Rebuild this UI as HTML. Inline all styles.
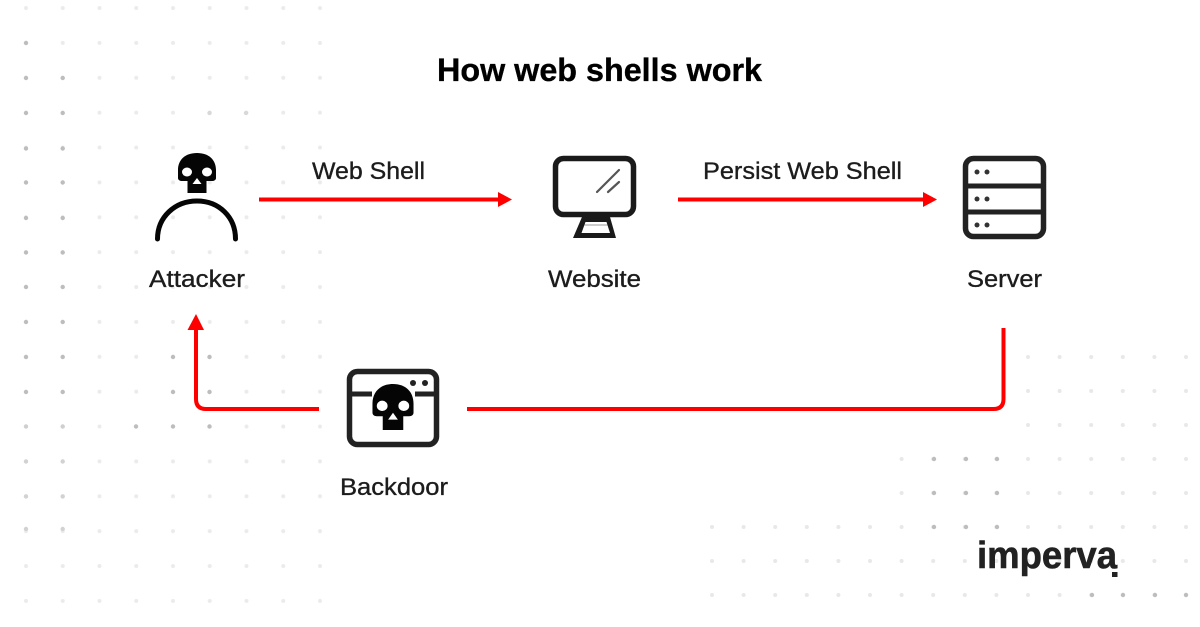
<!DOCTYPE html>
<html><head><meta charset="utf-8"><style>
html,body{margin:0;padding:0;background:#fff;width:1200px;height:627px;overflow:hidden}
svg{display:block}
text{font-family:"Liberation Sans",sans-serif;fill:#1c1c1c;font-size:24px;stroke:#1c1c1c;stroke-width:.35px}
</style></head><body>
<svg width="1200" height="627" viewBox="0 0 1200 627" xmlns="http://www.w3.org/2000/svg">
<defs>
<pattern id="pL" patternUnits="userSpaceOnUse" x="8" y="-9.4" width="36.75" height="34.875"><circle cx="18" cy="17.44" r="2" fill="#ebebeb"/></pattern>
<pattern id="pR" patternUnits="userSpaceOnUse" x="696.2" y="340" width="31.6" height="34"><circle cx="15.8" cy="17" r="2" fill="#e8e8e8"/></pattern>
<g id="skull">
<path d="M0-20C12-20 19-13 19-3V5C19 7 17 8 15 8H9.500V20H-9.500V8H-15C-17 8-19 7-19 5V-3C-19-13-12-20 0-20Z" fill="#050505"/>
<ellipse cx="-10" cy="-1" rx="5" ry="4.500" fill="#fff"/>
<ellipse cx="10" cy="-1" rx="5" ry="4.500" fill="#fff"/>
<path d="M0 5L4.500 11H-4.500Z" fill="#fff"/>
</g>
</defs>
<rect width="1200" height="627" fill="#fff"/>
<rect x="8" y="0" width="330" height="627" fill="url(#pL)"/>
<rect x="696" y="510" width="504" height="100" fill="url(#pR)"/>
<rect x="886" y="442" width="314" height="68" fill="url(#pR)"/>
<rect x="1012" y="340" width="188" height="102" fill="url(#pR)"/>
<g fill="#bdbdbd">
<circle cx="26" cy="43" r="2.200"/>
<circle cx="26" cy="78" r="2.200"/><circle cx="62.700" cy="78" r="2.200"/>
<circle cx="26" cy="113" r="2.200"/><circle cx="62.700" cy="113" r="2.200"/>
<circle cx="26" cy="148.500" r="2.200"/><circle cx="62.700" cy="148.500" r="2.200"/>
<circle cx="26" cy="182.500" r="2.200"/><circle cx="62.700" cy="182.500" r="2.200"/>
<circle cx="26" cy="218" r="2.200"/><circle cx="62.700" cy="218" r="2.200"/>
<circle cx="26" cy="252.500" r="2.200"/><circle cx="62.700" cy="252.500" r="2.200"/>
<circle cx="26" cy="287" r="2.200"/><circle cx="26" cy="322" r="2.200"/><circle cx="26" cy="357" r="2.200"/><circle cx="26" cy="392" r="2.200"/>
<circle cx="62.700" cy="287" r="2.200"/><circle cx="62.700" cy="322" r="2.200"/><circle cx="62.700" cy="357" r="2.200"/><circle cx="62.700" cy="392" r="2.200"/>
<circle cx="173" cy="357" r="2.200"/><circle cx="209.500" cy="357" r="2.200"/><circle cx="173" cy="392" r="2.200"/><circle cx="209.500" cy="392" r="2.200"/>
<circle cx="136" cy="426.500" r="2.200"/><circle cx="173" cy="426.500" r="2.200"/><circle cx="209.500" cy="426.500" r="2.200"/>
<circle cx="26" cy="426.500" r="2.200" fill="#cfcfcf"/><circle cx="62.700" cy="426.500" r="2.200" fill="#cfcfcf"/>
<circle cx="26" cy="461.500" r="2.200" fill="#d2d2d2"/><circle cx="62.700" cy="461.500" r="2.200" fill="#d2d2d2"/>
<circle cx="26" cy="496.400" r="2.200" fill="#d2d2d2"/><circle cx="62.700" cy="496.400" r="2.200" fill="#d2d2d2"/>
<circle cx="26" cy="529" r="2.200" fill="#d2d2d2"/><circle cx="62.700" cy="529" r="2.200" fill="#d2d2d2"/>
<circle cx="209.500" cy="113" r="2.200" fill="#d8d8d8"/><circle cx="246" cy="113" r="2.200" fill="#d8d8d8"/>
<circle cx="934" cy="459" r="2.200"/><circle cx="966" cy="459" r="2.200"/><circle cx="997" cy="459" r="2.200"/>
<circle cx="934" cy="493" r="2.200"/><circle cx="966" cy="493" r="2.200"/><circle cx="997" cy="493" r="2.200"/>
<circle cx="934" cy="527" r="2.200"/><circle cx="966" cy="527" r="2.200"/><circle cx="997" cy="527" r="2.200"/>
<circle cx="1092" cy="595" r="2.200"/><circle cx="1123" cy="595" r="2.200"/><circle cx="1155" cy="595" r="2.200"/><circle cx="1186" cy="595" r="2.200"/>
</g>

<text x="437" y="81" textLength="325" lengthAdjust="spacingAndGlyphs" style="font-size:32px;font-weight:700;fill:#000;stroke:#000">How web shells work</text>
<text x="312" y="179" textLength="113" lengthAdjust="spacingAndGlyphs">Web Shell</text>
<text x="703" y="179" textLength="199" lengthAdjust="spacingAndGlyphs">Persist Web Shell</text>
<text x="149" y="287" textLength="96" lengthAdjust="spacingAndGlyphs">Attacker</text>
<text x="548" y="287" textLength="93" lengthAdjust="spacingAndGlyphs">Website</text>
<text x="967" y="287" textLength="75" lengthAdjust="spacingAndGlyphs">Server</text>
<text x="340" y="495" textLength="108" lengthAdjust="spacingAndGlyphs">Backdoor</text>

<use href="#skull" transform="translate(197 173)"/>
<path d="M157.500 239C157.500 217 175 201 197 201C219 201 235.500 217 235.500 239" fill="none" stroke="#050505" stroke-width="5" stroke-linecap="round"/>

<rect x="555.500" y="158.500" width="78" height="56" rx="8" fill="#fff" stroke="#1a1a1a" stroke-width="5.500"/>
<path d="M597 192L619 170M608 192L619 182" stroke="#555" stroke-width="2.200" stroke-linecap="round"/>
<path d="M582 217H610L616 238H573Z" fill="#1a1a1a"/>
<path d="M585.500 222H606.500L610 233H581.500Z" fill="#fff"/>
<path d="M584.500 225H607.500" stroke="#999" stroke-width="1"/>

<rect x="965.500" y="158.500" width="78" height="78" rx="8" fill="#fff" stroke="#222" stroke-width="5.500"/>
<path d="M964 186H1045M964 212H1045" stroke="#222" stroke-width="5"/>
<g fill="#333"><circle cx="977" cy="172" r="2.500"/><circle cx="987" cy="172" r="2.500"/><circle cx="977" cy="199" r="2.500"/><circle cx="987" cy="199" r="2.500"/><circle cx="977" cy="225" r="2.500"/><circle cx="987" cy="225" r="2.500"/></g>

<rect x="349.500" y="371.500" width="87" height="73" rx="8" fill="#fff" stroke="#222" stroke-width="5.500"/>
<path d="M348 394H372M415 394H438" stroke="#222" stroke-width="5"/>
<circle cx="413" cy="383" r="3" fill="#222"/><circle cx="425" cy="383" r="3" fill="#222"/>
<use href="#skull" transform="translate(393 407) scale(1.080 1.150)"/>

<g fill="none" stroke="#f00" stroke-width="4">
<path d="M259 199.500H500"/>
<path d="M678 199.500H925"/>
<path d="M1003.500 328V399Q1003.500 409 993.500 409H467"/>
<path d="M319 409H206Q196 409 196 399V328"/>
</g>
<g fill="#f00">
<path d="M512 199.500L498 192V207Z"/>
<path d="M937 199.500L923 192V207Z"/>
<path d="M196 314L187.500 330H204Z"/>
</g>

<text x="977" y="568" textLength="140" lengthAdjust="spacingAndGlyphs" style="font-size:38px;font-weight:700;fill:#222;stroke:#222;stroke-width:.6px">imperva</text>
<rect x="1112" y="572" width="5.500" height="5" fill="#222"/>
</svg>
</body></html>
